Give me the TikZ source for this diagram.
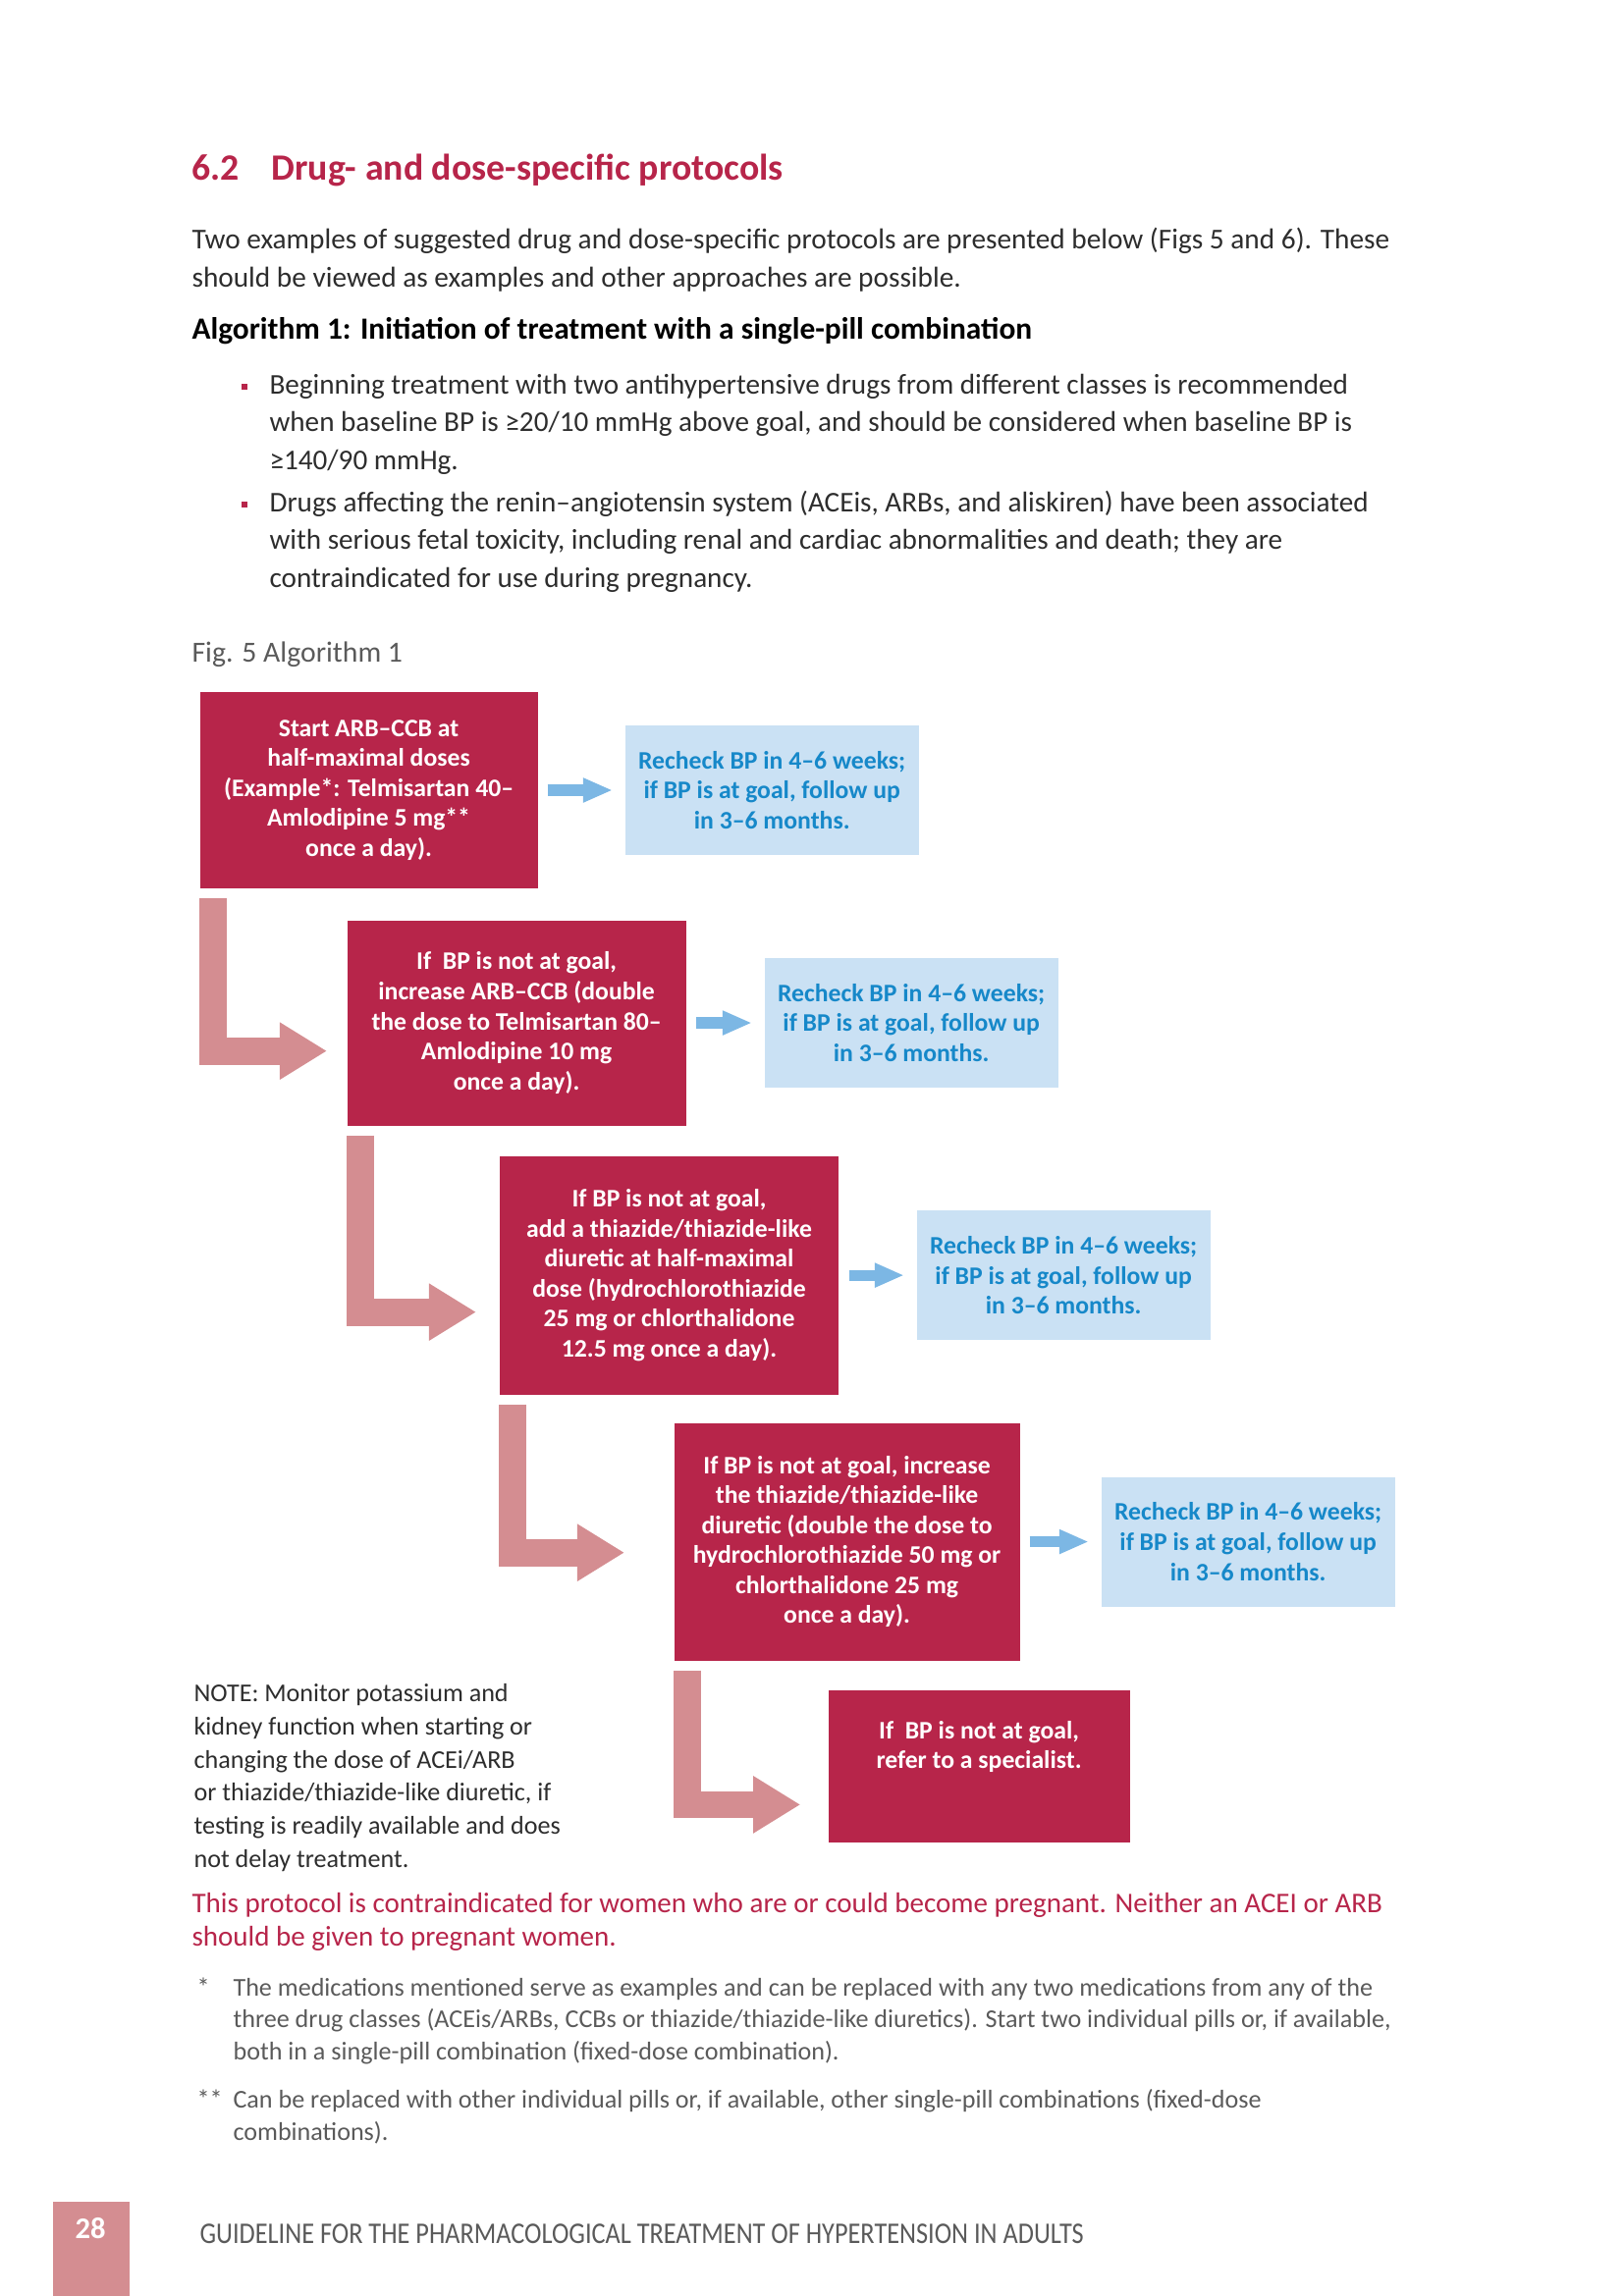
\documentclass[tikz,border=0pt]{standalone}
\usepackage{fontspec}
\setmainfont{Carlito}
\newfontfamily\narrowfont{Carlito}[FakeStretch=0.86]
\usetikzlibrary{arrows.meta,positioning}
\definecolor{whored}{RGB}{183,37,74}
\definecolor{whopink}{RGB}{212,141,145}
\definecolor{whosky}{RGB}{202,225,244}
\definecolor{whoblue}{RGB}{22,136,201}
\definecolor{whoarrow}{RGB}{124,183,228}
\definecolor{bodygray}{RGB}{45,45,45}
\definecolor{notegray}{RGB}{90,90,90}

\tikzset{
  stepbox/.style={fill=whored, text=white, align=center, inner sep=0pt,
    anchor=north west, font=\bfseries\fontsize{9.25}{11}\selectfont},
  recheckbox/.style={fill=whosky, text=whoblue, align=center, inner sep=0pt,
    minimum width=107.6pt, minimum height=47.5pt,
    font=\bfseries\fontsize{9.25}{11}\selectfont},
  stepflow/.style={draw=whopink, line width=10pt, line join=miter,
    -{Triangle[length=17.3pt,width=19.8pt]}},
  recheckflow/.style={draw=whoarrow, line width=4pt, shorten <=3.4pt, shorten >=4.4pt,
    -{Triangle[length=10.8pt,width=8.3pt]}},
  bodytext/.style={anchor=base west, inner sep=0pt, align=left, text=bodygray,
    font=\fontsize{10.55}{14}\selectfont},
  bulletdot/.style={fill=whored, minimum size=2.4pt, inner sep=0pt},
}

\begin{document}
\begin{tikzpicture}[x=0.3599pt, y=-0.3599pt]
  \useasboundingbox (0,0) rectangle (1654,2339);

  % heading and text above the figure (multi-line nodes sit on their last baseline)
  \node[anchor=base west, inner sep=0pt, text=whored, font=\bfseries\fontsize{13.6}{16}\selectfont] (secnum) at (195,183) {6.2};
  \node[anchor=base west, inner sep=0pt, text=whored, font=\bfseries\fontsize{13.6}{16}\selectfont] (sectitle) at (276,183) {Drug- and dose-specific protocols};
  \node[bodytext] (intro) at (195,292) {Two examples of suggested drug and dose-specific protocols are presented below (Figs 5 and 6). These\\
    should be viewed as examples and other approaches are possible.};
  \node[bodytext, text=black, font=\bfseries\fontsize{11.3}{14}\selectfont] (algtitle) at (195,345) {Algorithm 1: Initiation of treatment with a single-pill combination};
  \node[bulletdot] (dot1) at (249,394) {};
  \node[bodytext, font=\fontsize{10.5}{13.7}\selectfont] (bullet1) at (274,478) {Beginning treatment with two antihypertensive drugs from different classes is recommended\\
    when baseline BP is ≥20/10 mmHg above goal, and should be considered when baseline BP is\\
    ≥140/90 mmHg.};
  \node[bulletdot] (dot2) at (249,514) {};
  \node[bodytext, font=\fontsize{10.5}{13.7}\selectfont] (bullet2) at (274,598) {Drugs affecting the renin–angiotensin system (ACEis, ARBs, and aliskiren) have been associated\\
    with serious fetal toxicity, including renal and cardiac abnormalities and death; they are\\
    contraindicated for use during pregnancy.};
  \node[bodytext, text=notegray, font=\fontsize{10.7}{14}\selectfont] (figlabel) at (195,674) {Fig. 5 Algorithm 1};

  % the steps
  \node[stepbox, minimum width=123.8pt, minimum height=72.3pt] (step1) at (203,704)
    {Start ARB–CCB at\\ half-maximal doses\\ (Example*: Telmisartan 40–\\ Amlodipine 5 mg**\\ once a day).};
  \node[stepbox, minimum width=124.2pt, minimum height=75.2pt] (step2) at (353,937)
    {If\ \ BP is not at goal,\\ increase ARB–CCB (double\\ the dose to Telmisartan 80–\\ Amlodipine 10 mg\\ once a day).};
  \node[stepbox, minimum width=124.5pt, minimum height=87.5pt] (step3) at (508,1177)
    {If BP is not at goal,\\ add a thiazide/thiazide-like\\ diuretic at half-maximal\\ dose (hydrochlorothiazide\\ 25 mg or chlorthalidone\\ 12.5 mg once a day).};
  \node[stepbox, minimum width=126.7pt, minimum height=87.1pt] (step4) at (686,1449)
    {If BP is not at goal, increase\\ the thiazide/thiazide-like\\ diuretic (double the dose to\\ hydrochlorothiazide 50 mg or\\ chlorthalidone 25 mg\\ once a day).};
  \node[stepbox, minimum width=110.5pt, minimum height=56.1pt] (step5) at (843,1721)
    {If\ \ BP is not at goal,\\ refer to a specialist.\\[5pt]\mbox{}};

  % recheck boxes
  \node[recheckbox, right=31.7pt of step1] (recheck1) {Recheck BP in 4–6 weeks;\\ if BP is at goal, follow up\\ in 3–6 months.};
  \node[recheckbox, right=28.4pt of step2] (recheck2) {Recheck BP in 4–6 weeks;\\ if BP is at goal, follow up\\ in 3–6 months.};
  \node[recheckbox, right=28.1pt of step3] (recheck3) {Recheck BP in 4–6 weeks;\\ if BP is at goal, follow up\\ in 3–6 months.};
  \node[recheckbox, right=29.5pt of step4] (recheck4) {Recheck BP in 4–6 weeks;\\ if BP is at goal, follow up\\ in 3–6 months.};

  \foreach \i in {1,...,4}
    \draw[recheckflow] (step\i.east) -- (recheck\i.west);
  \foreach \from/\to/\dy/\gap in {1/2/10.3/7.2, 2/3/13.5/8.3, 3/4/4/18, 4/5/14/10}
    \draw[stepflow] ([shift={(5pt,-3.4pt)}]step\from.south west) |- ([shift={(-\gap pt,-\dy pt)}]step\to.west);

  % notes below
  \node[bodytext, font=\fontsize{9.4}{12.1}\selectfont] (note) at (197,1902) {NOTE: Monitor potassium and\\
    kidney function when starting or\\ changing the dose of ACEi/ARB\\ or thiazide/thiazide-like diuretic, if\\
    testing is readily available and does\\ not delay treatment.};
  \node[bodytext, text=whored, font=\fontsize{10.45}{12.2}\selectfont] (warning) at (195,1982) {This protocol is contraindicated for women who are or could become pregnant. Neither an ACEI or ARB\\
    should be given to pregnant women.};
  \node[bodytext, text=notegray, font=\fontsize{9.4}{11.7}\selectfont] (star1) at (200,2033) {*};
  \node[bodytext, text=notegray, font=\fontsize{9.4}{11.7}\selectfont] (foot1) at (237,2098) {The medications mentioned serve as examples and can be replaced with any two medications from any of the\\
    three drug classes (ACEis/ARBs, CCBs or thiazide/thiazide-like diuretics). Start two individual pills or, if available,\\
    both in a single-pill combination (fixed-dose combination).};
  \node[bodytext, text=notegray, font=\fontsize{9.4}{11.7}\selectfont] (star2) at (200,2147) {**};
  \node[bodytext, text=notegray, font=\fontsize{9.4}{11.7}\selectfont] (foot2) at (237,2180) {Can be replaced with other individual pills or, if available, other single-pill combinations (fixed-dose\\
    combinations).};

  % page footer
  \node[fill=whopink, anchor=north west, minimum width=28.1pt, minimum height=35pt, inner sep=0pt] (pagebox) at (53,2242) {};
  \node[anchor=base, inner sep=0pt, text=white, font=\bfseries\fontsize{11}{13}\selectfont] (pagenum) at (92,2280) {28};
  \node[anchor=base west, inner sep=0pt, text=notegray, font=\narrowfont\fontsize{11}{13}\selectfont] (runhead) at (203,2285) {GUIDELINE FOR THE PHARMACOLOGICAL TREATMENT OF HYPERTENSION IN ADULTS};
\end{tikzpicture}
\end{document}
